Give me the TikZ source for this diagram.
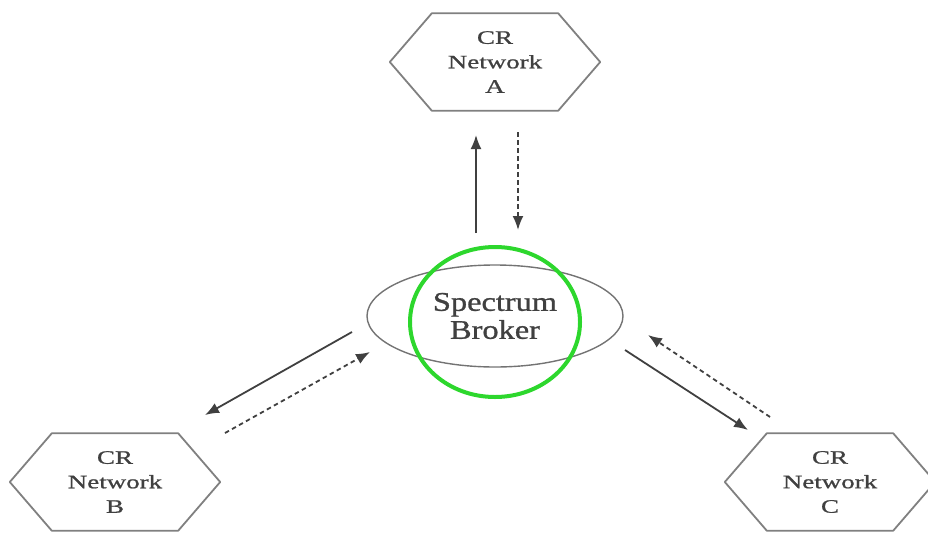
\documentclass[tikz,border=0pt]{standalone}
\usepackage{fontspec}
\setmainfont{Liberation Serif}
\newfontfamily\netfont[FakeStretch=1.42,FakeBold=1]{Liberation Serif}
\newfontfamily\brokerfont[FakeStretch=1.2,FakeBold=1]{Liberation Serif}
\usepackage{tikz}
\usetikzlibrary{arrows,arrows.meta,shapes}
\definecolor{ringgreen}{RGB}{45,215,45}
\tikzstyle{net}=[rectangle,minimum width=210pt,minimum height=97pt,inner sep=0pt,align=center,text=black!75,font=\netfont\fontsize{19}{24.5}\selectfont]
\tikzstyle{hexline}=[draw=black!50,line width=1.8pt,line join=round]
\tikzstyle{broker}=[ellipse,draw=black!55,line width=1.4pt,minimum width=256pt,minimum height=102pt,inner sep=0pt,align=center,text=black!75,font=\brokerfont\fontsize{27}{28}\selectfont]
\tikzstyle{ring}=[ellipse,draw=ringgreen,line width=4pt,minimum width=170pt,minimum height=150pt]
\tikzstyle{edge} = [draw,line width=1.8pt,black!75,->,>={Latex[length=14pt,width=11pt]}]
\tikzstyle{back} = [edge,dash pattern=on 4.5pt off 3.5pt]

\begin{document}
\begin{tikzpicture}[x=1pt,y=-1pt]
      \useasboundingbox (0,0) rectangle (928,533);
      \clip (0,0) rectangle (928,533);
      \node[net] (a) at (495,62) {CR\\Network\\A};
      \node[net] (b) at (115,482) {CR\\Network\\B};
      \node[net] (c) at (830,482) {CR\\Network\\C};
      \foreach \n in {a,b,c}
        \draw[hexline] (\n.west) -- ([xshift=42pt]\n.north west) -- ([xshift=-42pt]\n.north east)
          -- (\n.east) -- ([xshift=-42pt]\n.south east) -- ([xshift=42pt]\n.south west) -- cycle;
      \node[broker] (sb) at (495,316) {Spectrum\\Broker};
      \node[ring] (r) at (495,322) {};
      % arrow ends
      \coordinate (a1) at (476,233); \coordinate (a2) at (476,135);
      \coordinate (a3) at (518,132); \coordinate (a4) at (518,230);
      \coordinate (b1) at (352,332); \coordinate (b2) at (205,415);
      \coordinate (b3) at (225,433); \coordinate (b4) at (370,352);
      \coordinate (c1) at (625,350); \coordinate (c2) at (748,430);
      \coordinate (c3) at (770,417); \coordinate (c4) at (648,335);
      \draw[edge] (a1) to (a2);
      \draw[back] (a3) to (a4);
      \draw[edge] (b1) to (b2);
      \draw[back] (b3) to (b4);
      \draw[edge] (c1) to (c2);
      \draw[back] (c3) to (c4);
\end{tikzpicture}
\end{document}
